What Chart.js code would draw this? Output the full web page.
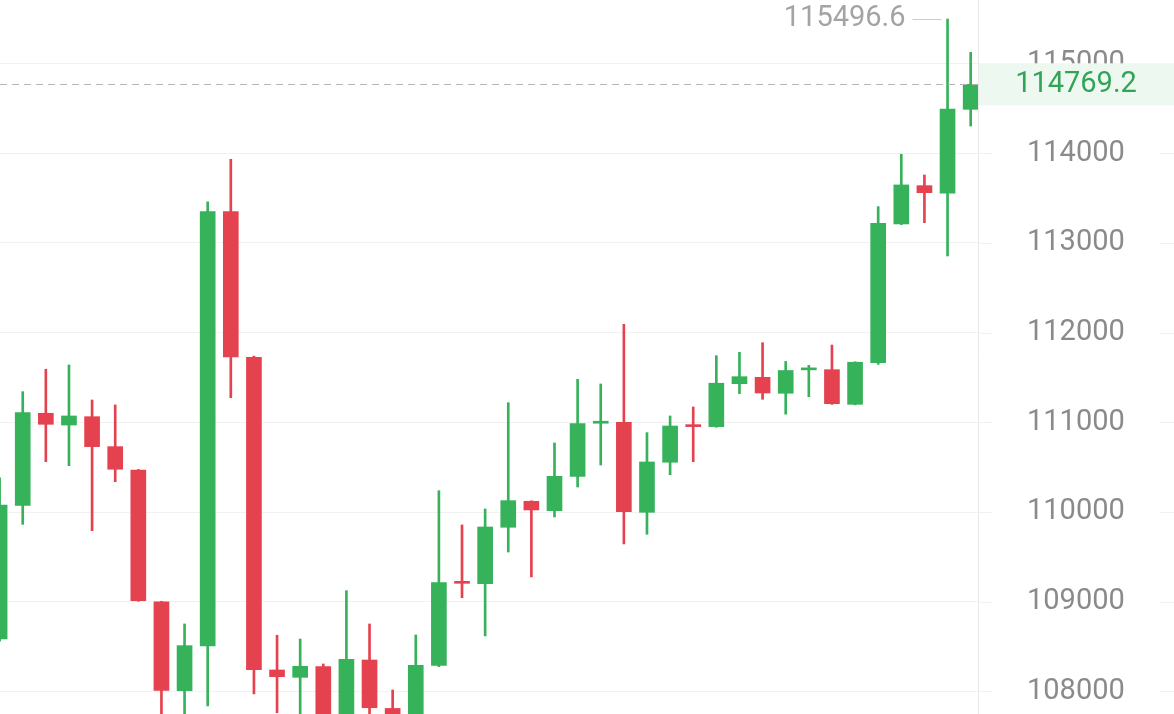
<!DOCTYPE html>
<html>
<head>
<meta charset="utf-8">
<script src="https://cdn.jsdelivr.net/npm/chart.js@4.4.0/dist/chart.umd.min.js"></script>
<style>
html, body { margin: 0; padding: 0; background: #fff; }
#wrap { position: relative; width: 1174px; height: 714px; }
</style>
</head>
<body>
<div id="wrap"><canvas id="myChart"></canvas></div>
<script>
// candles, oldest first (last one is the live candle)
var openVals = [108584, 110075, 111101, 110970, 111063, 110729, 110469, 109000, 108008, 108506,
  113349, 111725, 108239, 108157, 108276, 107600, 108350, 107810, 107680, 108291,
  109215, 109201, 109830, 110120, 110015, 110396, 110990, 111001, 109997, 110555,
  110962, 110952, 111431, 111502, 111324, 111585, 111587, 111201, 111665, 113212,
  113639, 113554, 114490];
var closeVals = [110078, 111108, 110978, 111071, 110729, 110477, 109012, 108012, 108510, 113349,
  111729, 108242, 108164, 108280, 107600, 108358, 107818, 107650, 108291, 109212,
  109205, 109833, 110127, 110023, 110398, 110985, 110996, 110004, 110558, 110959,
  110952, 111436, 111509, 111327, 111578, 111592, 111208, 111670, 113220, 113647,
  113561, 114494, 114769.2];
var highVals = [110380, 111342, 111592, 111640, 111249, 111194, 110475, 109005, 108752, 113460,
  113933, 111740, 108626, 108584, 108306, 109123, 108752, 108016, 108629, 110238,
  109856, 110034, 111219, 110125, 110770, 111480, 111428, 112093, 110885, 111071,
  111171, 111743, 111781, 111888, 111679, 111636, 111862, 111675, 113405, 113989,
  113758, 115496.6, 115126];
var lowVals = [108560, 109863, 110561, 110517, 109792, 110338, 109005, 107650, 107700, 107837,
  111275, 107971, 107763, 107650, 107500, 107450, 107600, 107500, 107550, 108276,
  109045, 108618, 109554, 109276, 109945, 110279, 110524, 109644, 109752, 110416,
  110561, 110945, 111320, 111257, 111091, 111286, 111200, 111195, 111647, 113205,
  113226, 112855, 114304];

var yTicks = [108000, 109000, 110000, 111000, 112000, 113000, 114000, 115000];
var lastPrice = closeVals[closeVals.length - 1];

var upColor = "#35b25a";
var downColor = "#e5424f";
var gridColor = "#f1f1f1";
var labelFont = "29px Roboto";

function candleColor(ctx) {
  var i = ctx.dataIndex;
  return closeVals[i] >= openVals[i] ? upColor : downColor;
}

var bodyData = openVals.map(function (o, i) { return { x: i, y: [o, closeVals[i]] }; });
var wickData = lowVals.map(function (l, i) { return { x: i, y: [l, highVals[i]] }; });

// last price line + tag, highest price marker, grid stubs in the price column
var priceMarks = {
  id: "priceMarks",
  afterDraw: function (chart) {
    var ctx = chart.ctx;
    var area = chart.chartArea;
    var xs = chart.scales.x;
    var ys = chart.scales.y;
    var labelX = (area.right + chart.width) / 2;
    ctx.save();

    ctx.strokeStyle = gridColor;
    ctx.lineWidth = 1;
    ys.ticks.forEach(function (t) {
      var ty = Math.round(ys.getPixelForValue(t.value)) + 0.5;
      ctx.beginPath();
      ctx.moveTo(area.right, ty);
      ctx.lineTo(area.right + 14, ty);
      ctx.moveTo(chart.width - 14, ty);
      ctx.lineTo(chart.width, ty);
      ctx.stroke();
    });

    var py = ys.getPixelForValue(lastPrice);
    ctx.setLineDash([7, 5]);
    ctx.strokeStyle = "#b4b4b4";
    ctx.beginPath();
    ctx.moveTo(area.left, Math.round(py) + 0.5);
    ctx.lineTo(area.right, Math.round(py) + 0.5);
    ctx.stroke();
    ctx.setLineDash([]);

    ctx.fillStyle = "#edf8f0";
    ctx.fillRect(area.right + 1, py - 21, chart.width - area.right - 1, 42);
    ctx.font = labelFont;
    ctx.textBaseline = "middle";
    ctx.textAlign = "center";
    ctx.fillStyle = "#33a457";
    ctx.fillText(lastPrice.toFixed(1), labelX, py);

    var hi = Math.max.apply(null, highVals);
    var hiIdx = highVals.indexOf(hi);
    var hx = xs.getPixelForValue(hiIdx);
    var hy = ys.getPixelForValue(hi);
    ctx.strokeStyle = "#cccccc";
    ctx.beginPath();
    ctx.moveTo(hx - 6, Math.round(hy) + 0.5);
    ctx.lineTo(hx - 35, Math.round(hy) + 0.5);
    ctx.stroke();
    ctx.fillStyle = "#a4a4a4";
    ctx.textAlign = "right";
    ctx.fillText(hi.toFixed(1), hx - 42, hy);

    ctx.restore();
  }
};

new Chart("myChart", {
  type: "bar",
  data: {
    datasets: [{
      data: bodyData,
      backgroundColor: candleColor,
      barThickness: 15,
      minBarLength: 2,
      grouped: false,
      borderWidth: 0,
      clip: 0
    }, {
      data: wickData,
      backgroundColor: candleColor,
      barThickness: 2,
      grouped: false,
      borderWidth: 0,
      clip: 0
    }]
  },
  options: {
    responsive: true,
    maintainAspectRatio: false,
    animation: false,
    layout: { padding: 0 },
    plugins: {
      legend: { display: false },
      tooltip: { enabled: false }
    },
    scales: {
      x: {
        type: "linear",
        display: false,
        offset: false,
        min: 0.0173,
        max: 42.317
      },
      y: {
        position: "right",
        min: 107748,
        max: 115709,
        afterBuildTicks: function (s) {
          s.ticks = yTicks.map(function (v) { return { value: v }; });
        },
        afterFit: function (s) {
          // fixed price column, plot runs to the top and bottom edges
          s.width = 196;
          s.paddingTop = 0;
          s.paddingBottom = 0;
        },
        grid: { color: gridColor, drawTicks: false },
        border: { color: "#e8e8e8" },
        ticks: {
          color: "#8a8a8a",
          font: { family: "Roboto", size: 29 },
          padding: 49,
          crossAlign: "center",
          callback: function (v) { return String(v); }
        }
      }
    }
  },
  plugins: [priceMarks]
});
</script>
</body>
</html>
